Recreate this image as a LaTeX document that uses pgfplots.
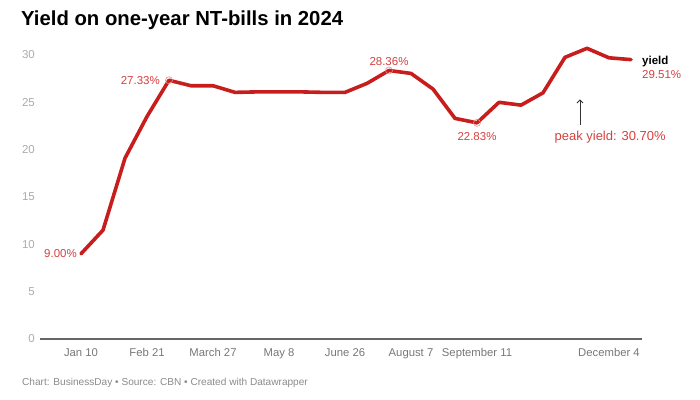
\documentclass[border=0pt]{standalone}
\usepackage{pgfplots}
\pgfplotsset{compat=1.18}
\usetikzlibrary{arrows.meta}
\usepackage{fontspec}
\setmainfont{Liberation Sans}
\definecolor{linered}{HTML}{C71E1D}
\definecolor{annred}{HTML}{D6403F}
\definecolor{ylab}{HTML}{ABABAB}
\definecolor{xlab}{HTML}{777777}
\definecolor{foot}{HTML}{8A8A8A}
\definecolor{base}{HTML}{666666}
\begin{document}
\begin{tikzpicture}
\useasboundingbox (0,0) rectangle (700bp,400bp);
\node[anchor=west, inner sep=0pt, font=\fontsize{20.3bp}{24bp}\selectfont\bfseries] at (21bp,380bp) {Yield on one-year NT-bills in 2024};
\node[anchor=west, inner sep=0pt, text=foot, font=\fontsize{10.1bp}{12bp}\selectfont] at (22bp,17bp) {Chart: BusinessDay • Source: CBN • Created with Datawrapper};
\begin{axis}[
  at={(40bp,61bp)}, anchor=south west,
  scale only axis, width=602bp, height=293.5bp,
  xmin=-1.864, xmax=25.5, ymin=0, ymax=31,
  axis x line*=bottom, axis y line=none,
  x axis line style={base, line width=1.2pt, -},
  xtick={0,3,6,9,12,15,18,24},
  xticklabels={Jan 10,Feb 21,March 27,May 8,June 26,August 7,September 11,December 4},
  major tick length=0pt,
  x tick label style={text=xlab, font=\fontsize{11.3bp}{13bp}\selectfont, yshift=-6bp},
  ytick={0,5,10,15,20,25,30},
  clip=false,
]
\addplot[linered, line width=3.6bp, line join=round, line cap=round] coordinates {
(0,9.00) (1,11.5) (2,19.1) (3,23.5) (4,27.33) (5,26.75) (6,26.75) (7,26.05)
(8,26.1) (9,26.1) (10,26.1) (11,26.05) (12,26.05) (13,27.0) (14,28.36)
(15,28.05) (16,26.4) (17,23.3) (18,22.83) (19,25.0) (20,24.7) (21,26.0)
(22,29.75) (23,30.70) (24,29.7) (25,29.51)
};
\addplot[only marks, mark=o, mark size=3.5bp, mark options={draw=annred!60, line width=0.6bp}] coordinates {(4,27.33) (14,28.36) (18,22.83)};
% y tick labels
\foreach \v in {0,5,10,15,20,25,30} {
  \edef\tmp{\noexpand\node[anchor=east, inner sep=0pt, text=ylab, font=\noexpand\fontsize{11.5bp}{13bp}\noexpand\selectfont] at (axis cs:-1.864,\v) [xshift=-5bp] {\v};}
  \tmp
}
\tikzset{ann/.style={text=annred, inner sep=0pt, font=\fontsize{11.5bp}{13bp}\selectfont}}
\node[ann, anchor=east] at (axis cs:0,9.00) [xshift=-4bp] {9.00\%};
\node[ann, anchor=east] at (axis cs:4,27.33) [xshift=-9bp] {27.33\%};
\node[ann, anchor=south] at (axis cs:14,28.36) [yshift=5bp] {28.36\%};
\node[ann, anchor=north] at (axis cs:18,22.83) [yshift=-9bp] {22.83\%};
\node[anchor=west, inner sep=0pt, font=\fontsize{11.5bp}{13bp}\selectfont\bfseries] at (axis cs:25,29.51) [xshift=11bp, yshift=-2bp] {yield};
\node[ann, anchor=west] at (axis cs:25,29.51) [xshift=11bp, yshift=-15bp] {29.51\%};
\node[ann, font=\fontsize{13bp}{15bp}\selectfont] at (axis cs:24.05,21.35) {peak yield: 30.70\%};
\draw[-{Straight Barb[length=3bp]}, line width=0.8bp, black!80] (axis cs:22.68,22.6) -- (axis cs:22.68,25.3);
\end{axis}
\end{tikzpicture}
\end{document}
